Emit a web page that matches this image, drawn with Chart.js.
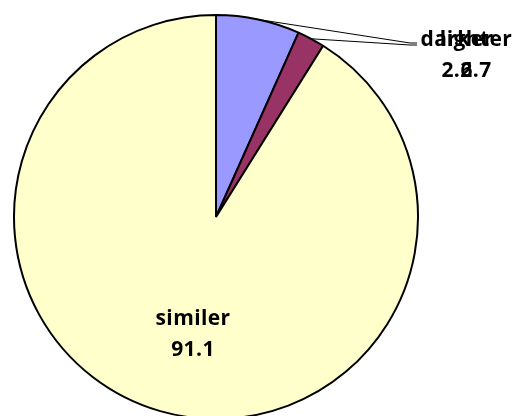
<!DOCTYPE html>
<html>
<head>
<meta charset="utf-8">
<script src="https://cdn.jsdelivr.net/npm/chart.js@4/dist/chart.umd.min.js"></script>
<style>
  html, body { margin: 0; padding: 0; background: #fff; overflow: hidden; }
  #wrap { width: 512px; height: 420px; }
</style>
</head>
<body>
<div id="wrap"><canvas id="grafico"></canvas></div>
<script>
var categorias = ['lighter', 'darker', 'similer'];
var valores = [6.7, 2.2, 91.1];
var cores = ['#9999ff', '#993366', '#ffffcc'];

// posicao dos rotulos (deslocamento a partir do centro da pizza, linha de base do texto)
// guia = true desenha linha ate o rotulo
var posRotulo = [
    { dx: 260, dy: -171, guia: true, gy: -174 },
    { dx: 241, dy: -171, guia: true, gy: -172 },
    { dx: -23, dy: 108, guia: false }
];

var fonte = 'bold 21px "Open Sans", "Liberation Sans", sans-serif';

var rotulos = {
    id: 'rotulos',
    afterDatasetsDraw: function (chart) {
        var ctx = chart.ctx;
        var arcos = chart.getDatasetMeta(0).data;
        ctx.save();
        ctx.font = fonte;
        ctx.letterSpacing = '0.4px';
        ctx.fillStyle = '#000';
        ctx.textAlign = 'center';
        ctx.textBaseline = 'alphabetic';
        arcos.forEach(function (arco, i) {
            var p = arco.getProps(['x', 'y', 'startAngle', 'endAngle', 'outerRadius'], true);
            var pos = posRotulo[i];
            if (pos.guia) {
                var meio = (p.startAngle + p.endAngle) / 2;
                var ex = p.x + Math.cos(meio) * p.outerRadius;
                var ey = p.y + Math.sin(meio) * p.outerRadius;
                ctx.beginPath();
                ctx.strokeStyle = '#000';
                ctx.lineWidth = 1;
                ctx.moveTo(ex, ey);
                ctx.lineTo(p.x + 194, p.y + pos.gy);
                ctx.lineTo(p.x + 201, p.y + pos.gy);
                ctx.stroke();
            }
            var tx = p.x + pos.dx;
            var ty = p.y + pos.dy;
            ctx.fillText(categorias[i], tx, ty);
            ctx.fillText(valores[i].toFixed(1), tx, ty + 31);
        });
        ctx.restore();
    }
};

var ctx = document.getElementById('grafico').getContext('2d');
var grafico = new Chart(ctx, {
    type: 'pie',
    data: {
        labels: categorias,
        datasets: [{
            data: valores,
            backgroundColor: cores,
            borderColor: '#000',
            borderWidth: 2
        }]
    },
    options: {
        responsive: true,
        maintainAspectRatio: false,
        animation: false,
        layout: { padding: { left: 13, right: 93, top: 14, bottom: 0 } },
        plugins: {
            legend: { display: false },
            tooltip: { enabled: false }
        }
    },
    plugins: [rotulos]
});
</script>
</body>
</html>
